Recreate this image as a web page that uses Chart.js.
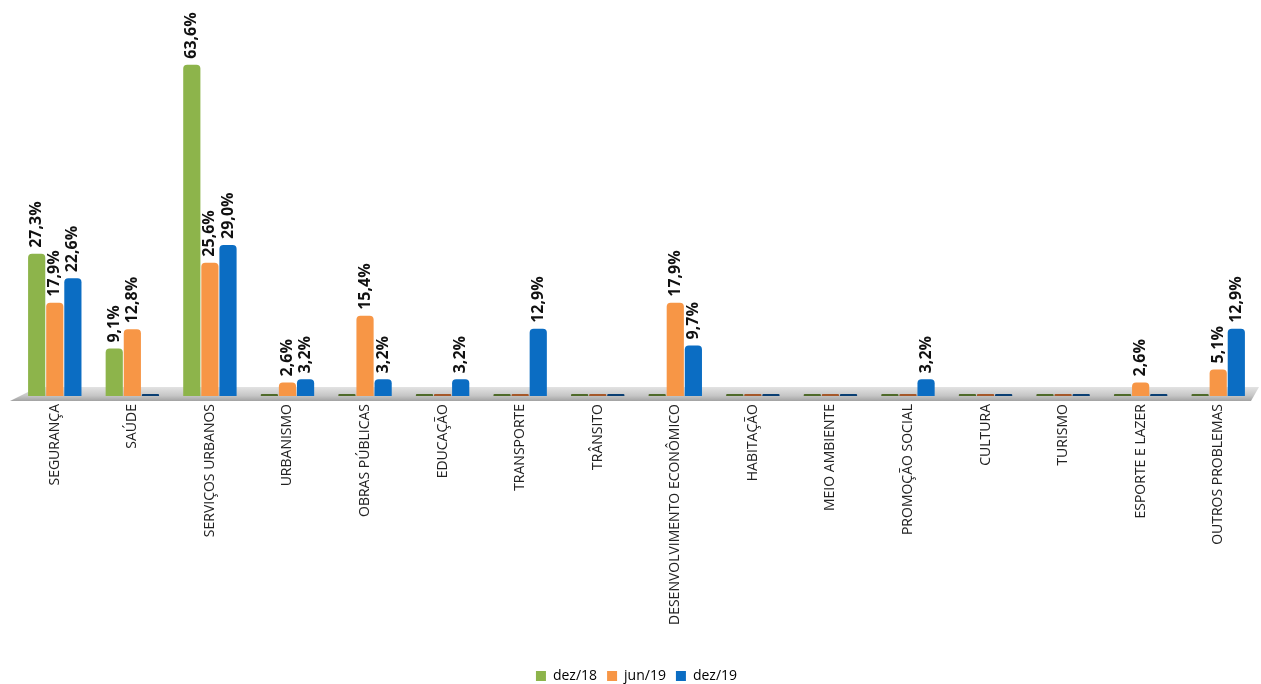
<!DOCTYPE html>
<html>
<head>
<meta charset="utf-8">
<script src="https://cdn.jsdelivr.net/npm/chart.js@4"></script>
<style>
  html, body { margin: 0; padding: 0; background: #fff; }
  #wrap { width: 1261px; height: 684px; }
</style>
</head>
<body>
<div id="wrap"><canvas id="chart"></canvas></div>
<script>
const categories = ['SEGURANÇA', 'SAÚDE', 'SERVIÇOS URBANOS', 'URBANISMO', 'OBRAS PÚBLICAS', 'EDUCAÇÃO', 'TRANSPORTE', 'TRÂNSITO', 'DESENVOLVIMENTO ECONÔMICO', 'HABITAÇÃO', 'MEIO AMBIENTE', 'PROMOÇÃO SOCIAL', 'CULTURA', 'TURISMO', 'ESPORTE E LAZER', 'OUTROS PROBLEMAS'];
const dez18 = [27.3, 9.1, 63.6, 0, 0, 0, 0, 0, 0, 0, 0, 0, 0, 0, 0, 0];
const jun19 = [17.9, 12.8, 25.6, 2.6, 15.4, 0, 0, 0, 17.9, 0, 0, 0, 0, 0, 2.6, 5.1];
const dez19 = [22.6, 0, 29.0, 3.2, 3.2, 3.2, 12.9, 0, 9.7, 0, 0, 3.2, 0, 0, 0, 12.9];

const fmt = (v) => v.toFixed(1).replace('.', ',') + '%';

// grey floor under the bars
const floor = {
  id: 'floor',
  beforeDatasetsDraw(chart) {
    const { ctx, chartArea: a } = chart;
    const y = chart.scales.y.getPixelForValue(0);
    ctx.save();
    const g = ctx.createLinearGradient(0, y - 10, 0, y + 6);
    g.addColorStop(0, '#e6e6e6');
    g.addColorStop(0.6, '#c6c6c6');
    g.addColorStop(1, '#9c9c9c');
    ctx.fillStyle = g;
    ctx.beginPath();
    ctx.moveTo(a.left + 22, y - 9);
    ctx.lineTo(a.right + 2, y - 9);
    ctx.lineTo(a.right - 6, y + 5);
    ctx.lineTo(a.left - 6, y + 5);
    ctx.closePath();
    ctx.fill();
    ctx.restore();
  }
};

// vertical value labels above the bars
const valueLabels = {
  id: 'valueLabels',
  afterDatasetsDraw(chart) {
    const { ctx } = chart;
    ctx.save();
    ctx.font = 'bold 16px "Open Sans", sans-serif';
    ctx.fillStyle = '#111';
    ctx.textAlign = 'left';
    ctx.textBaseline = 'middle';
    chart.data.datasets.forEach((ds, i) => {
      chart.getDatasetMeta(i).data.forEach((bar, j) => {
        const v = ds.data[j];
        if (!v) return;
        ctx.save();
        ctx.translate(bar.x, bar.y - 6);
        ctx.rotate(-Math.PI / 2);
        ctx.fillText(fmt(v), 0, 0);
        ctx.restore();
      });
    });
    ctx.restore();
  }
};

// push the legend a little lower
const legendShift = {
  id: 'legendShift',
  afterLayout(chart) {
    chart.legend.top += 9;
    chart.legend.bottom += 9;
  }
};

const colors = ['#8db44b', '#f79646', '#0b6dc3'];
const dark = ['#4f6a2a', '#a5582a', '#0a3f73'];

function ds(label, data, i) {
  return {
    label,
    data,
    backgroundColor: data.map(v => v ? colors[i] : dark[i]),
    borderWidth: 0,
    borderRadius: { topLeft: 4, topRight: 4 },
    borderSkipped: 'bottom',
    minBarLength: 2,
    categoryPercentage: 0.7,
    barPercentage: 0.95
  };
}

new Chart(document.getElementById('chart'), {
  type: 'bar',
  data: {
    labels: categories,
    datasets: [ds('dez/18', dez18, 0), ds('jun/19', jun19, 1), ds('dez/19', dez19, 2)]
  },
  options: {
    responsive: true,
    maintainAspectRatio: false,
    animation: false,
    layout: { padding: { left: 16, right: 4, top: 8, bottom: 0 } },
    plugins: {
      legend: {
        position: 'bottom',
        labels: {
          boxWidth: 10, boxHeight: 10, padding: 10,
          color: '#222',
          font: { family: '"Open Sans", sans-serif', size: 14 },
          generateLabels(chart) {
            return chart.data.datasets.map((d, i) => ({
              text: d.label, fillStyle: colors[i], strokeStyle: colors[i], lineWidth: 0, datasetIndex: i
            }));
          }
        }
      },
      tooltip: { enabled: false }
    },
    scales: {
      x: {
        grid: { display: false, drawTicks: false },
        border: { display: false },
        afterFit(scale) { scale.height += 17; },
        ticks: {
          minRotation: 90, maxRotation: 90, padding: 8,
          color: '#222',
          font: { family: '"Open Sans", sans-serif', size: 14 }
        }
      },
      y: {
        display: false,
        min: 0,
        max: 74.5
      }
    }
  },
  plugins: [floor, valueLabels, legendShift]
});
</script>
</body>
</html>
